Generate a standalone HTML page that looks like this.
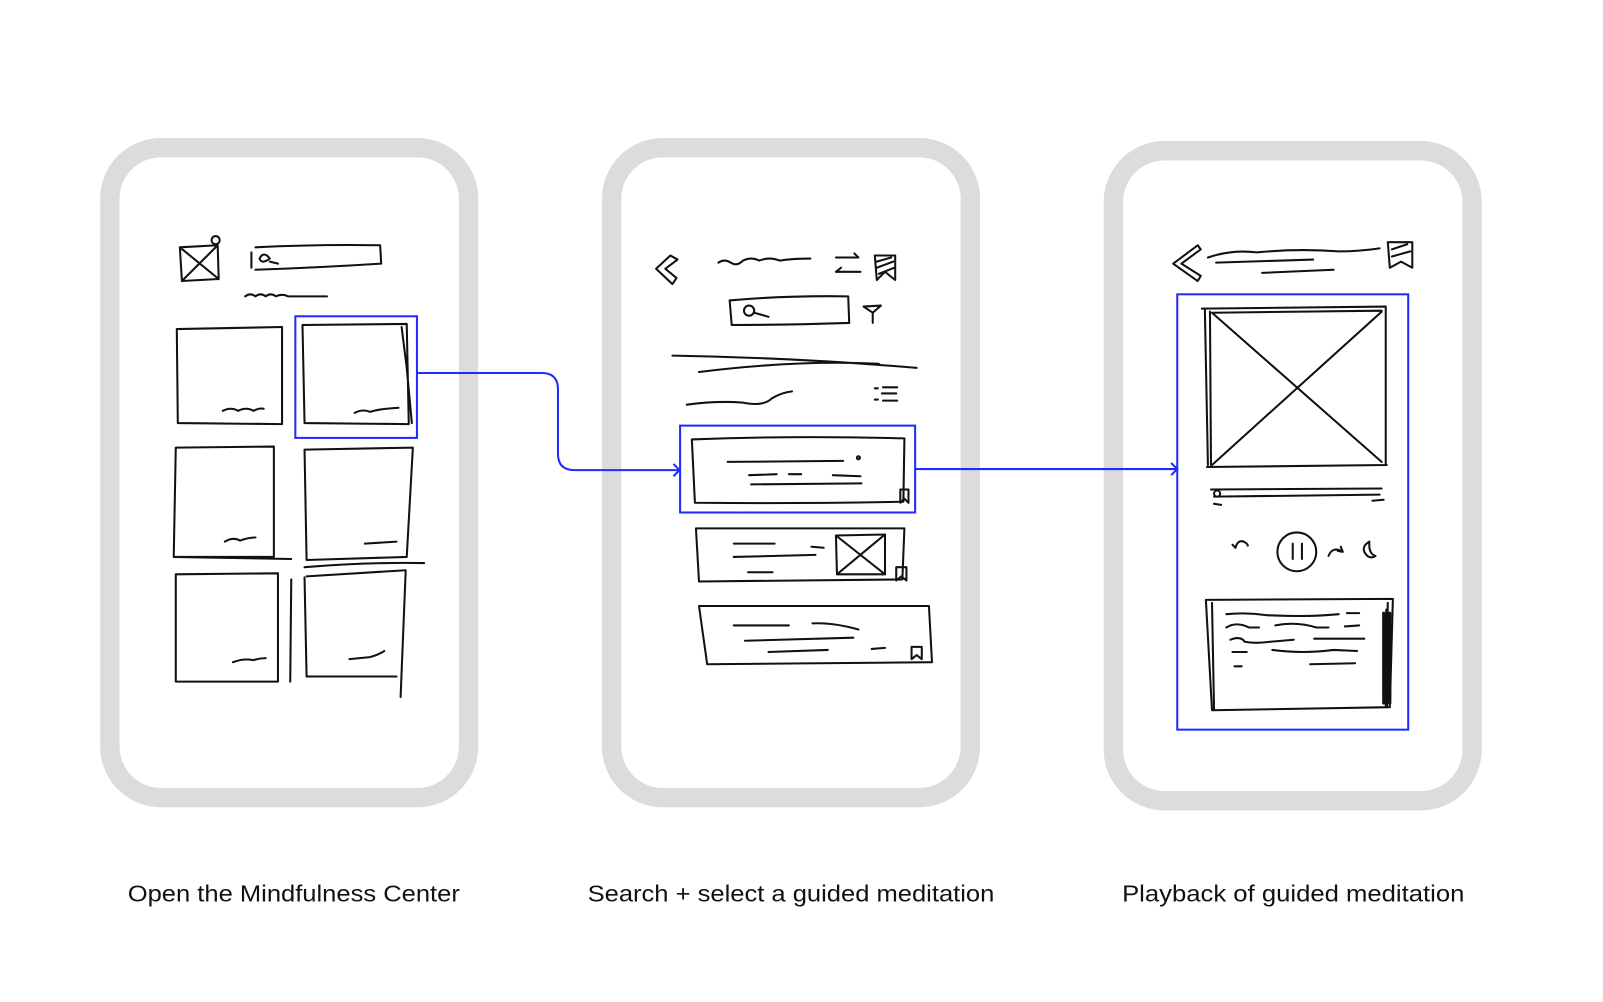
<!DOCTYPE html>
<html><head><meta charset="utf-8"><style>
html,body{margin:0;padding:0;background:#fff;}
svg{display:block;}
</style></head><body>
<svg width="1603" height="1002" viewBox="0 0 1568.6 980.5" xmlns="http://www.w3.org/2000/svg">
<rect width="1568.6" height="980.5" fill="#fff"/>
<g fill="#fff" stroke="#dcdcdc" stroke-width="19">
<rect x="107.5" y="144.5" width="351" height="636" rx="50"/>
<rect x="598.5" y="144.5" width="351" height="636" rx="50"/>
<rect x="1089.5" y="147.5" width="351" height="636" rx="50"/>
</g>
<g fill="none" stroke="#111" stroke-width="2" stroke-linecap="round" stroke-linejoin="round">
<!-- phone1 -->
<path d="M176 242 L213 240 L214 273 L178 275 Z M176 242 L214 273 M213 240 L178 275"/>
<circle cx="211" cy="235" r="4"/>
<path d="M246 247 L246 262 M250 242 Q310 239 372 240 L373 258 Q310 262 250 264"/>
<path d="M254 253 q4 -8 10 0 q-8 6 -10 0 M264 256 l8 2"/>
<path d="M240 290 q5 -4 10 0 q5 -4 10 0 q5 -4 10 0 q6 -3 12 0 L320 290"/>
<path d="M173 322 L276 320 L276 415 L174 414 Z"/><path d="M218 402 q8 -4 15 0 q8 -4 15 0 q6 -3 10 -2"/>
<path d="M296 318 L398 317 L400 415 L298 414 Z M393 320 L398 360 L403 414"/><path d="M347 404 q8 -4 15 -1 q10 -3 28 -4"/>
<path d="M172 438 L268 437 L268 545 L170 545 Z M170 545 L285 547"/><path d="M220 530 q8 -5 15 -1 q8 -3 15 -3"/>
<path d="M298 440 L404 438 L398 545 L300 548 Z M298 555 Q360 550 415 551"/><path d="M357 532 L388 530"/>
<path d="M172 562 L272 561 L272 667 L172 667 Z M285 567 L284 667"/><path d="M228 648 q10 -4 20 -2 q6 -2 12 -2"/>
<path d="M300 564 L397 558 L392 682 M298 565 L300 662 L388 662"/><path d="M342 645 q10 -1 20 -2 q8 -2 14 -6"/>
<!-- phone2 -->
<path d="M656 250 L642 263 L658 278 L662 272 L651 263 L663 254 Z"/>
<path d="M703 257 q6 -4 12 0 q6 4 12 -2 q8 -4 16 0 q10 -4 20 0 q12 -2 30 -2"/>
<path d="M818 252 L840 252 L836 248 M842 266 L818 266 L823 262"/>
<path d="M856 250 L876 250 L876 274 L866 266 L858 274 Z M858 256 L872 252 M858 262 L874 256 M860 268 L875 262"/>
<path d="M714 294 Q770 289 830 290 L831 316 Q770 318 716 318 Z"/>
<circle cx="733" cy="304" r="5"/><path d="M738 306 L752 310"/>
<path d="M845 300 L862 299 L854 306 Z M854 306 L854 316"/>
<path d="M658 348 Q780 350 897 360 M684 364 Q780 352 860 356"/>
<path d="M672 396 q30 -4 55 -2 q20 4 28 -4 q10 -6 20 -7"/>
<path d="M856 380 L859 380 M864 379 L878 379 M863 385 L877 385 M856 391 L859 391 M864 392 L878 392"/>
<path d="M677 430 Q780 426 885 429 L884 491 Q780 493 680 492 Z"/>
<path d="M712 452 L825 451 M733 465 L760 464 M772 464 L784 464 M815 465 L842 466 M735 474 L843 473"/><circle cx="840" cy="448" r="1.5"/>
<path d="M881 479 L881 492 L885 488 L889 492 L889 479 Z"/>
<path d="M681 517 L885 517 L883 567 L684 569 Z"/>
<path d="M718 532 L758 532 M718 545 L798 543 M732 560 L756 560 M794 535 L806 536"/>
<path d="M818 524 L866 523 L866 562 L819 562 Z M818 524 L866 562 M866 523 L819 562"/>
<path d="M877 555 L877 568 L882 564 L887 568 L887 555 Z"/>
<path d="M684 593 L909 593 L912 648 L692 650 Z"/>
<path d="M718 612 L772 612 M795 610 q20 -1 45 6 M729 627 L835 624 M752 638 L810 636 M853 635 L866 634"/>
<path d="M892 633 L892 645 L897 641 L902 645 L902 633 Z"/>
<!-- phone3 -->
<path d="M1172 240 L1148 258 L1172 275 L1175 270 L1156 258 L1175 244 Z"/>
<path d="M1182 252 Q1205 244 1230 247 Q1270 243 1310 246 Q1330 246 1350 243 M1190 257 L1285 254 M1235 267 L1305 264"/>
<path d="M1358 237 L1382 237 L1382 262 L1371 256 L1360 262 Z M1362 244 L1377 239 M1362 251 L1380 246"/>
<path d="M1176 302 L1356 300 L1356 455 M1179 303 L1182 455 M1184 305 L1185 455 M1181 457 L1357 455 M1186 306 L1352 304 M1186 306 L1352 452 M1352 305 L1186 455"/>
<path d="M1185 479 L1352 478 M1188 486 L1350 484 M1188 493 L1195 494 M1343 490 L1354 489"/>
<circle cx="1191" cy="483" r="3"/>
<path d="M1209 536 q2 -8 8 -6 q4 2 4 4 M1209 536 l-3 -3"/>
<circle cx="1269" cy="540" r="19"/><path d="M1265 532 L1265 547 M1274 532 L1274 547"/>
<path d="M1300 544 q4 -10 14 -4 M1314 540 l-5 -1 M1314 540 l-2 -5"/>
<path d="M1340 530 q-10 6 -2 14 q4 3 8 0 q-7 -2 -6 -14"/>
<path d="M1180 587 L1363 586 L1360 692 L1186 695 Z M1186 590 L1188 695 M1358 590 L1356 692"/>
<path d="M1200 601 q20 -2 40 1 q40 2 70 -1 M1318 600 L1330 600 M1200 614 q10 -6 22 0 L1232 614 M1248 612 q20 -4 40 2 L1300 614 M1316 613 L1330 612 M1204 626 q10 -4 14 2 q10 2 25 0 L1266 626 M1286 625 L1335 625 M1206 638 L1220 638 M1245 636 q30 4 60 0 L1328 637 M1208 652 L1215 652 M1282 650 L1326 649"/>
<path d="M1354 600 L1354 688 M1357 597 L1357 690 M1360 600 L1360 688" stroke-width="3"/>
</g>
<g fill="none" stroke="#1f2bff" stroke-width="2">
<rect x="289" y="309.5" width="119" height="119"/>
<rect x="665.5" y="416.5" width="230" height="85"/>
<rect x="1152" y="288" width="226" height="426"/>
<path d="M408 365 L530 365 Q546 365 546 381 L546 444 Q546 460 562 460 L665 460"/>
<path d="M659 454 L665 460 L659 466"/>
<path d="M895 459 L1152 459 M1146 453 L1152 459 L1146 465"/>
</g>
<g font-family="Liberation Sans, sans-serif" font-size="23" fill="#111">
<text x="125" y="882" textLength="325" lengthAdjust="spacingAndGlyphs">Open the Mindfulness Center</text>
<text x="575" y="882" textLength="398" lengthAdjust="spacingAndGlyphs">Search + select a guided meditation</text>
<text x="1098" y="882" textLength="335" lengthAdjust="spacingAndGlyphs">Playback of guided meditation</text>
</g>
</svg>
</body></html>
